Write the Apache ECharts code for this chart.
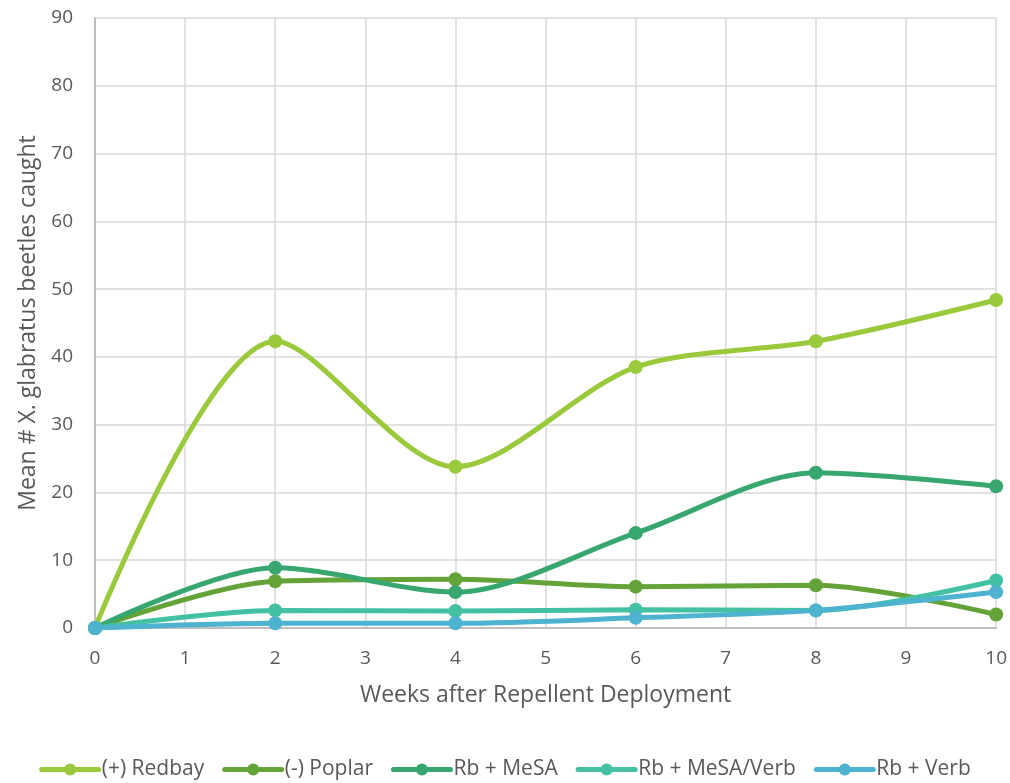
<!DOCTYPE html>
<html>
<head>
<meta charset="utf-8">
<style>
  html, body { margin: 0; padding: 0; background: #fff; }
  #chart { width: 1010px; height: 783px; }
</style>
<script src="https://cdn.jsdelivr.net/npm/echarts@6/dist/echarts.min.js"></script>
</head>
<body>
<div id="chart"></div>
<script>
// Weeks after deployment at which traps were checked
const weeks = [0, 2, 4, 6, 8, 10];

// Mean number of X. glabratus beetles caught per treatment
const redbay     = [0, 42.3, 23.8, 38.5, 42.3, 48.4];
const poplar     = [0, 6.9, 7.2, 6.1, 6.3, 2.0];
const rbMesa     = [0, 8.9, 5.3, 14.0, 22.9, 20.9];
const rbMesaVerb = [0, 2.6, 2.5, 2.7, 2.6, 7.0];
const rbVerb     = [0, 0.7, 0.7, 1.5, 2.6, 5.3];

const seriesNames = ['(+) Redbay', '(-) Poplar', 'Rb + MeSA', 'Rb + MeSA/Verb', 'Rb + Verb'];
const seriesValues = [redbay, poplar, rbMesa, rbMesaVerb, rbVerb];
const colors = ['#9ACA3C', '#64A338', '#37A76F', '#44C1A3', '#4EB3CF'];

const font = 'Open Sans';
const textColor = '#595959';

const chart = echarts.init(document.getElementById('chart'));
chart.setOption({
  animation: false,
  color: colors,
  textStyle: { fontFamily: font },
  grid: { left: 95, right: 13, top: 18, bottom: 155, containLabel: false },
  legend: {
    top: 754,
    left: 'center',
    itemWidth: 57,
    itemHeight: 15,
    itemGap: 18,
    textStyle: { fontSize: 21, color: textColor, fontFamily: font, padding: [0, 0, 0, -2] },
    lineStyle: { width: 5, cap: 'round' },
    data: seriesNames
  },
  xAxis: {
    type: 'value',
    min: 0,
    max: 10,
    interval: 1,
    name: 'Weeks after Repellent Deployment',
    nameLocation: 'middle',
    nameGap: 56,
    nameTextStyle: { fontSize: 23, color: textColor },
    axisLine: { lineStyle: { color: '#bfbfbf', width: 2 } },
    axisTick: { show: false },
    axisLabel: { fontSize: 19, color: textColor, margin: 21 },
    splitLine: { show: true, lineStyle: { color: '#d9d9d9', width: 1.5 } }
  },
  yAxis: {
    type: 'value',
    min: 0,
    max: 90,
    interval: 10,
    name: 'Mean # X. glabratus beetles caught',
    nameLocation: 'middle',
    nameGap: 51,
    nameTextStyle: { fontSize: 23, color: textColor },
    axisLine: { show: true, lineStyle: { color: '#bfbfbf', width: 2 } },
    axisTick: { show: false },
    axisLabel: { fontSize: 19, color: textColor, margin: 22 },
    splitLine: { show: true, lineStyle: { color: '#d9d9d9', width: 1.5 } }
  },
  series: seriesNames.map((name, i) => ({
    name: name,
    type: 'line',
    smooth: 0.3,
    smoothConstraint: false,
    symbol: 'circle',
    symbolSize: 14,
    lineStyle: { width: 5 },
    data: weeks.map((w, j) => [w, seriesValues[i][j]])
  }))
});
</script>
</body>
</html>
